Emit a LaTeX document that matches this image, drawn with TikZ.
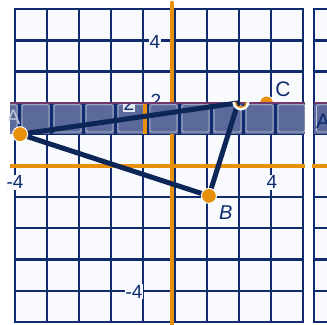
\documentclass[tikz,border=0pt]{standalone}
\usepackage{fontspec}
\setmainfont{Liberation Sans}
\usepackage{tikz}
\usetikzlibrary{positioning, calc}

\definecolor{gridnavy}{HTML}{0E2C6E}
\definecolor{axisorange}{HTML}{E8900C}
\definecolor{bandslate}{HTML}{5B6A9A}
\definecolor{gridpaper}{HTML}{F8FAFE}
\definecolor{cellrim}{HTML}{BCC2D8}
\definecolor{bandtop}{HTML}{73386E}
\definecolor{trinavy}{HTML}{0D2658}

\begin{document}
\begin{tikzpicture}[x=32pt, y=31.3pt,
    gridline/.style={gridnavy, line width=2.4pt, line cap=rect},
    axisline/.style={axisorange, line width=4pt},
    ticklabel/.style={text=gridnavy, fill=gridpaper, inner sep=1pt, font=\fontsize{19}{19}\selectfont},
    ptlabel/.style={text=gridnavy, font=\fontsize{21}{21}\selectfont},
    dot/.style={circle, fill=axisorange, draw=white, line width=1pt, minimum size=15pt, inner sep=0pt},
    edge/.style={trinavy, line width=5pt, line cap=round, line join=round}]
    \useasboundingbox (-5.469,-5.064) rectangle (4.75,5.288);

    % Paper and grid
    \fill[gridpaper] (-5,-5) rectangle (4,5);
    \fill[gridpaper] (4.34,-5) rectangle (4.75,5);
    \foreach \x in {-5,...,4} \draw[gridline] (\x,-5) -- (\x,5);
    \foreach \y in {-5,...,5} {
        \draw[gridline] (-5,\y) -- (4,\y);
        \draw[gridline] (4.34,\y) -- (4.75,\y);
    }
    \draw[gridline] (4.34,-5) -- (4.34,5);

    % Axes
    \draw[axisline] (-5.16,0) -- (4.06,0);
    \draw[axisline] (4.28,0) -- (4.75,0);
    \draw[axisline, line cap=round] (-0.09,5.2) -- (-0.09,-5.2);

    % Tick labels
    \node[ticklabel] (ytop) at (-0.625,3.95) {4};
    \node[ticklabel] (ybot) at (-1.28,-4.04) {-4};
    \node[ticklabel] (xleft) at (-5,-0.53) {-4};
    \node[ticklabel] (xright) at (3.03,-0.53) {4};
    \node[ticklabel] (ytwo) at (-0.6,2.07) {2};

    % Point C, half hidden by the band
    \node[dot, minimum size=14pt] (C) at (2.86,2.0) {};

    % Band
    \fill[bandslate] (-5.16,1.02) rectangle (4.06,2);
    \begin{scope}
        \clip (-5.16,1.02) rectangle (4.06,2);
        \foreach \k in {-1,...,8} {
            \draw[gridline] ({\k-4.86},1) -- ({\k-4.86},2);
            \draw[cellrim, rounded corners=1.5pt, line width=0.8pt] ({\k-4.86+0.08},1.07) rectangle ({\k-3.86-0.08},1.94);
        }
        \draw[axisline] (-0.93,1) -- (-0.93,2);
        \node[ticklabel, fill=cellrim!40!white] (ghosttwo) at (-1.44,1.96) {2};
        \node[ptlabel, text=cellrim] (ghostA) at (-5.05,1.55) {A};
    \end{scope}
    \draw[bandtop, line width=1.2pt] (-5.16,2) -- (4.06,2);
    \fill[bandslate] (4.34,1.02) rectangle (4.75,2);
    \draw[cellrim, rounded corners=1.5pt, line width=0.8pt] (4.42,1.07) rectangle (4.9,1.94);
    \node[ptlabel] (farA) at (4.63,1.42) {A};
    \draw[bandtop, line width=1.2pt] (4.34,2) -- (4.75,2);

    % Triangle
    \coordinate (A) at (-4.84,1.0);
    \coordinate (B) at (1.06,-0.97);
    \coordinate (T) at (1.97,2.0);
    \coordinate (ring) at (2.06,2.03);
    \draw[edge] (A) -- (T) -- (B) -- cycle;
    \node[dot] (Adot) at (A) {};
    \node[dot] (Bdot) at (B) {};
    \draw[white, line width=3pt] ($(ring)+(-7pt,0)$) arc[start angle=180, end angle=360, radius=7pt];
    \draw[axisorange, line width=1.3pt] ($(ring)+(-5.5pt,0)$) arc[start angle=180, end angle=360, radius=5.5pt];

    % Point labels
    \node[ptlabel, font=\fontsize{20}{20}\selectfont\itshape] (Blabel) at (1.59,-1.49) {B};
    \node[ptlabel] (Clabel) at (3.375,2.44) {C};
\end{tikzpicture}
\end{document}
